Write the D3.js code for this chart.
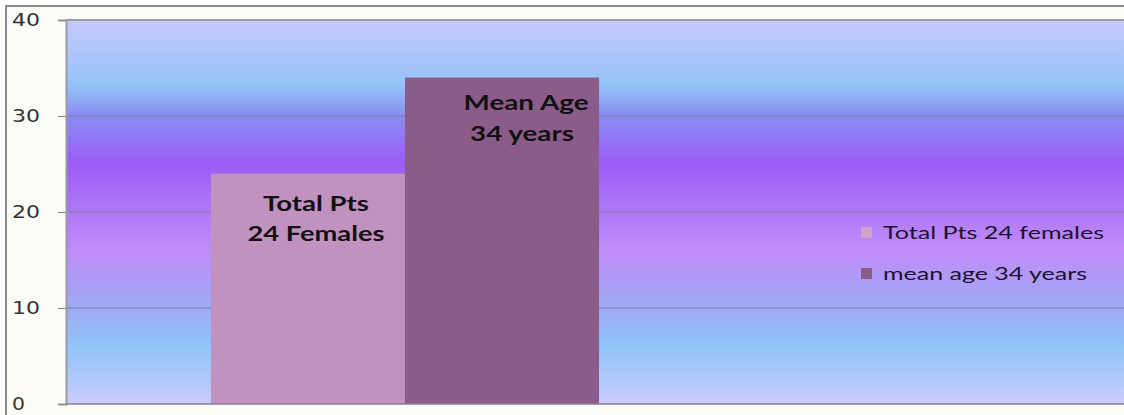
<!DOCTYPE html>
<html>
<head>
<meta charset="utf-8">
<script src="https://cdn.jsdelivr.net/npm/d3@7"></script>
<style>
  body { margin: 0; background: #fff; overflow: hidden; }
  text { font-family: Lato, "Open Sans", sans-serif; }
</style>
</head>
<body>
<script>
// données
const categories = ['Patients', ''];
const series = ['Total Pts 24 females', 'mean age 34 years'];
const valeurs = [24, 34];
const etiquettes = [['Total Pts', '24 Females'], ['Mean Age', '34 years']];
const couleurs = ['#c192c0', '#8b5c8a'];
const ticks_y = [0, 10, 20, 30, 40];

const largeur = 1124, hauteur = 415;
const marge = {haut: 20, gauche: 66, bas: 11};

const canevas = d3.select('body')
  .append('svg')
  .attr('width', largeur)
  .attr('height', hauteur);

// fond du cadre
canevas.append('rect')
  .attr('x', 6).attr('y', 6)
  .attr('width', largeur - 6).attr('height', hauteur - 6)
  .attr('fill', '#fbfbf8');
canevas.append('path')
  .attr('d', `M6,${hauteur} V6 H${largeur}`)
  .attr('fill', 'none').attr('stroke', '#8a8a8a').attr('stroke-width', 2);

// échelles
const y = d3.scaleLinear()
  .domain([0, 40])
  .range([hauteur - marge.bas, marge.haut]);
const x = d3.scaleBand()
  .domain(categories)
  .range([marge.gauche, 1422]);
const x_serie = d3.scaleBand()
  .domain(series)
  .range([0, x.bandwidth()])
  .paddingOuter(0.747);

// dégradé du fond
const degrade = canevas.append('defs')
  .append('linearGradient')
  .attr('id', 'fond')
  .attr('x1', 0).attr('y1', 0).attr('x2', 0).attr('y2', 1);
[
  [0, '#c8c8fb'], [0.17, '#93c3f8'], [0.25, '#8a8cf2'], [0.37, '#9b5df6'],
  [0.6, '#c08cf8'], [0.73, '#a2a6f5'], [0.85, '#90c4f8'], [1, '#c9cdfc']
].forEach(([o, c]) => degrade.append('stop').attr('offset', o).attr('stop-color', c));

canevas.append('rect')
  .attr('x', marge.gauche).attr('y', marge.haut)
  .attr('width', largeur - marge.gauche)
  .attr('height', y(0) - y(40))
  .attr('fill', 'url(#fond)');

// grille
canevas.selectAll('.grille')
  .data(ticks_y.slice(1, -1))
  .enter().append('line')
  .attr('x1', marge.gauche).attr('x2', largeur)
  .attr('y1', d => y(d)).attr('y2', d => y(d))
  .attr('stroke', '#7c7c9c').attr('stroke-width', 1);

// barres
canevas.selectAll('.barre')
  .data(valeurs)
  .enter().append('rect')
  .attr('x', (d, i) => x(categories[0]) + x_serie(series[i]))
  .attr('y', d => y(d))
  .attr('width', x_serie.bandwidth())
  .attr('height', d => y(0) - y(d))
  .attr('fill', (d, i) => couleurs[i]);

// étiquettes des barres (le texte d'origine est étiré en largeur)
const decalages_y = [[37, 67], [32, 63]];
const decalages_x = [[8, 8], [24, 20]];
const longueurs = [[106, 137], [125, 104]];
etiquettes.forEach((lignes, i) => {
  lignes.forEach((t, j) => {
    canevas.append('text')
      .attr('x', x(categories[0]) + x_serie(series[i]) + x_serie.bandwidth() / 2 + decalages_x[i][j])
      .attr('y', y(valeurs[i]) + decalages_y[i][j])
      .attr('text-anchor', 'middle')
      .attr('font-size', 21).attr('font-weight', 'bold')
      .attr('textLength', longueurs[i][j])
      .attr('lengthAdjust', 'spacingAndGlyphs')
      .attr('fill', '#111')
      .text(t);
  });
});

// axe y
const axe = canevas.append('g')
  .attr('transform', `translate(${marge.gauche},0)`)
  .call(d3.axisLeft(y).tickValues(ticks_y).tickSize(8));
axe.select('.domain').attr('stroke', '#9a9aa6').attr('stroke-width', 2);
axe.selectAll('.tick line').attr('stroke', '#8a8a8a');
axe.selectAll('.tick text')
  .attr('x', -54)
  .attr('text-anchor', 'start')
  .attr('font-size', 18).attr('fill', '#333')
  .attr('textLength', d => d < 10 ? 13 : 28)
  .attr('lengthAdjust', 'spacingAndGlyphs')
  .style('font-family', '"DejaVu Sans", sans-serif');

// bords du tracé
canevas.append('line')
  .attr('x1', marge.gauche).attr('x2', largeur)
  .attr('y1', y(40)).attr('y2', y(40))
  .attr('stroke', '#9a9a9a').attr('stroke-width', 2);
canevas.append('line')
  .attr('x1', marge.gauche).attr('x2', largeur)
  .attr('y1', y(0)).attr('y2', y(0))
  .attr('stroke', '#8a7c9a').attr('stroke-width', 1.5);

// légende
const longueurs_legende = [221, 204];
const legende = canevas.selectAll('.legende')
  .data(series)
  .enter().append('g')
  .attr('transform', (d, i) => `translate(861,${227 + i * 41})`);
legende.append('rect')
  .attr('width', 11).attr('height', 11)
  .attr('fill', (d, i) => i ? couleurs[i] : '#cfa2cc');
legende.append('text')
  .attr('x', 22).attr('y', 11.5)
  .attr('font-size', 18).attr('fill', '#1c1230')
  .attr('textLength', (d, i) => longueurs_legende[i])
  .attr('lengthAdjust', 'spacingAndGlyphs')
  .text(d => d);
</script>
</body>
</html>
